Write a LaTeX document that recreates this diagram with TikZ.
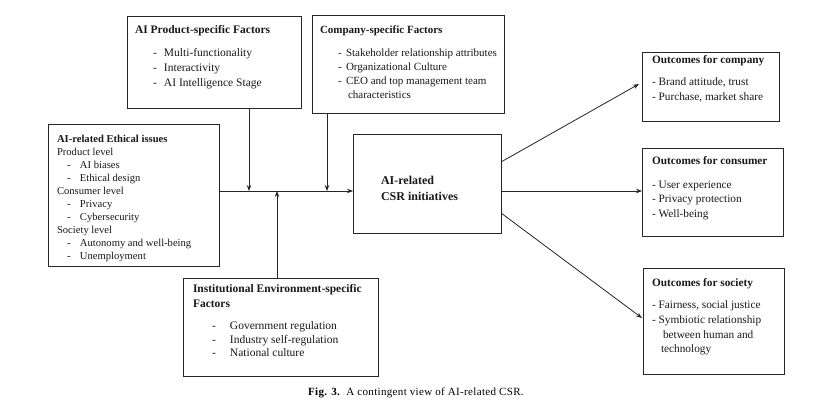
\documentclass[tikz,border=0pt]{standalone}
\usepackage{fontspec}
\setmainfont{Liberation Serif}
\usetikzlibrary{arrows.meta,calc}
\newcommand\dashitem[2]{\hspace*{#1}\makebox[#2][l]{-}}
\begin{document}
\begin{tikzpicture}[x=1pt,y=-1pt,
  box/.style={draw=black!85, line width=1pt, anchor=north west, inner sep=0pt, outer sep=0pt},
  txt/.style={anchor=north west, inner sep=0pt, outer sep=0pt, align=left, text=black!90},
  arr/.style={draw=black!85, line width=0.8pt, -{Stealth[length=6pt,width=4.5pt]}},
  ln/.style={draw=black!85, line width=0.8pt}]
\useasboundingbox[fill=white] (0,0) rectangle (836,414);

% boxes
\node[box, minimum width=171pt, minimum height=142pt] (eth) at (48,125) {};
\node[box, minimum width=174pt, minimum height=92pt] (prod) at (127,17) {};
\node[box, minimum width=192pt, minimum height=98pt] (comp) at (312,16) {};
\node[box, minimum width=195pt, minimum height=97pt] (inst) at (183,279) {};
\node[box, minimum width=148pt, minimum height=99pt] (csr) at (353,135) {};
\node[box, minimum width=137pt, minimum height=69pt] (ocomp) at (642,53) {};
\node[box, minimum width=141pt, minimum height=88pt] (ocons) at (642,149) {};
\node[box, minimum width=141pt, minimum height=105pt] (osoc) at (643,269) {};

% texts
\node[txt, font=\fontsize{10.6}{13}\selectfont] (etht) at (57,135) {%
\textbf{AI-related Ethical issues}\\
Product level\\
\dashitem{10pt}{13pt}AI biases\\
\dashitem{10pt}{13pt}Ethical design\\
Consumer level\\
\dashitem{10pt}{13pt}Privacy\\
\dashitem{10pt}{13pt}Cybersecurity\\
Society level\\
\dashitem{10pt}{13pt}Autonomy and well-being\\
\dashitem{10pt}{13pt}Unemployment};

\node[txt, font=\fontsize{11.5}{15}\selectfont] (prodt) at (135,25.5) {%
\textbf{AI Product-specific Factors}\\[8pt]
\dashitem{18pt}{11pt}Multi-functionality\\
\dashitem{18pt}{11pt}Interactivity\\
\dashitem{18pt}{11pt}AI Intelligence Stage};

\node[txt, font=\fontsize{11}{13.7}\selectfont] (compt) at (320,25.5) {%
\textbf{Company-specific Factors}\\[10pt]
\dashitem{18pt}{8pt}Stakeholder relationship attributes\\
\dashitem{18pt}{8pt}Organizational Culture\\
\dashitem{18pt}{8pt}CEO and top management team\\
\hspace*{28pt}characteristics};

\node[txt, font=\fontsize{11.5}{14.5}\selectfont] (instt) at (193,284.5) {%
\textbf{Institutional Environment-specific}\\
\textbf{Factors}\\[8pt]
\dashitem{19pt}{18pt}Government regulation\\[-1pt]
\dashitem{19pt}{18pt}Industry self-regulation\\[-1pt]
\dashitem{19pt}{18pt}National culture};

\node[txt, font=\fontsize{12}{16}\selectfont] (csrt) at (381,176) {%
\textbf{AI-related}\\
\textbf{CSR initiatives}};

\node[txt, font=\fontsize{11.3}{15}\selectfont] (ocompt) at (652,56) {%
\textbf{Outcomes for company}\\[7pt]
- Brand attitude, trust\\
- Purchase, market share};

\node[txt, font=\fontsize{11.3}{14.5}\selectfont] (oconst) at (652,157) {%
\textbf{Outcomes for consumer}\\[9pt]
- User experience\\
- Privacy protection\\
- Well-being};

\node[txt, font=\fontsize{11.3}{14.7}\selectfont] (osoct) at (652,279) {%
\textbf{Outcomes for society}\\[7pt]
- Fairness, social justice\\
- Symbiotic relationship\\
\hspace*{11pt}between human and\\
\hspace*{9pt}technology};

% caption
\node[anchor=base west, inner sep=0pt, font=\fontsize{11}{12}\selectfont\addfontfeatures{LetterSpace=3}] (cap) at (308,395)
  {\textbf{Fig. 3.}\ \ A contingent view of AI-related CSR.};

% connectors
\coordinate (j) at (0,191);
\coordinate (a1) at (249,191);
\coordinate (a2) at (327,191);
\coordinate (a3) at (277,191);
\draw[arr] (eth.east |- j) -- (csr.west |- j);
\draw[arr] (prod.south -| a1) -- (a1);
\draw[arr] (comp.south -| a2) -- (a2);
\draw[arr] (inst.north -| a3) -- (a3);

\coordinate (s1) at (501,162);
\coordinate (s3) at (501,213);
\coordinate (t1) at (639,84);
\coordinate (t3) at (642,318);
\draw[arr] (s1) -- (t1);
\draw[arr] (csr.east |- j) -- (ocons.west |- j);
\draw[arr] (s3) -- (t3);
\end{tikzpicture}
\end{document}
